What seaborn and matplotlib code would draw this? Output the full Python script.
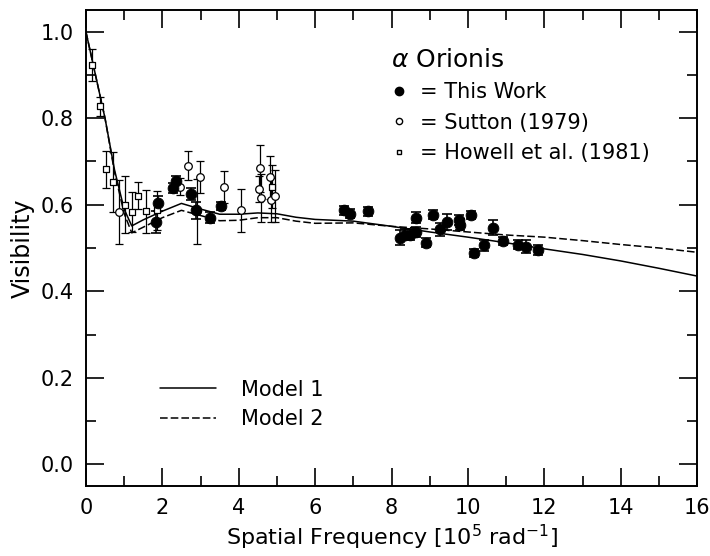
import numpy as np
import pandas as pd
import seaborn as sns
import matplotlib.pyplot as plt
from matplotlib.ticker import MultipleLocator
from matplotlib.lines import Line2D

# ---- data ----
# This Work (filled circles)
work_x = [1.84, 1.89, 2.29, 2.35, 2.74, 2.88, 3.25, 3.53, 6.75, 6.92, 7.39,
          8.23, 8.34, 8.49, 8.64, 8.64, 8.90, 9.08, 9.26, 9.44, 9.76, 9.79,
          10.07, 10.16, 10.42, 10.65, 10.92, 11.31, 11.51, 11.83]
work_y = [0.560, 0.603, 0.638, 0.654, 0.625, 0.587, 0.570, 0.597, 0.587, 0.579, 0.585,
          0.524, 0.531, 0.531, 0.537, 0.570, 0.512, 0.577, 0.543, 0.560, 0.565, 0.554,
          0.576, 0.488, 0.506, 0.547, 0.516, 0.508, 0.503, 0.495]
work_err = [0.025, 0.017, 0.012, 0.012, 0.013, 0.020, 0.012, 0.010, 0.010, 0.010, 0.010,
            0.018, 0.012, 0.012, 0.012, 0.012, 0.010, 0.010, 0.015, 0.018, 0.012, 0.012,
            0.010, 0.010, 0.012, 0.017, 0.010, 0.010, 0.015, 0.012]

# Sutton (1979) (open circles)
sutton_x = [0.87, 2.45, 2.67, 2.90, 2.99, 3.62, 4.05, 4.53, 4.56, 4.59, 4.82, 4.85, 4.95]
sutton_y = [0.583, 0.642, 0.690, 0.585, 0.664, 0.642, 0.587, 0.636, 0.684, 0.616, 0.663, 0.611, 0.621]
sutton_err = [0.074, 0.020, 0.033, 0.075, 0.037, 0.037, 0.050, 0.030, 0.055, 0.055, 0.050, 0.050, 0.060]

# Howell et al. (1981) (small squares)
howell_x = [0.17, 0.36, 0.52, 0.70, 1.03, 1.21, 1.37, 1.56, 1.87, 4.88]
howell_y = [0.923, 0.827, 0.682, 0.652, 0.600, 0.583, 0.621, 0.585, 0.587, 0.642]
howell_err = [0.037, 0.022, 0.043, 0.070, 0.066, 0.046, 0.032, 0.050, 0.045, 0.050]

# models
model1_x = [0, 0.25, 0.5, 0.75, 1.0, 1.2, 1.5, 2.0, 2.5, 3.0, 3.5, 4.0, 4.5, 5.0,
            5.5, 6.0, 7.0, 8.0, 9.0, 10.0, 11.0, 12.0, 13.0, 14.0, 15.0, 16.0]
model1_y = [1.0, 0.90, 0.80, 0.68, 0.59, 0.551, 0.565, 0.585, 0.603, 0.590, 0.578, 0.578,
            0.581, 0.579, 0.571, 0.566, 0.562, 0.550, 0.537, 0.525, 0.512, 0.498,
            0.485, 0.470, 0.453, 0.435]
model2_x = model1_x
model2_y = [1.0, 0.90, 0.80, 0.675, 0.58, 0.535, 0.548, 0.570, 0.587, 0.575, 0.563, 0.564,
            0.570, 0.570, 0.562, 0.557, 0.558, 0.550, 0.544, 0.537, 0.530, 0.525,
            0.517, 0.508, 0.500, 0.490]

models = pd.concat([
    pd.DataFrame({"x": model1_x, "y": model1_y, "model": "Model 1"}),
    pd.DataFrame({"x": model2_x, "y": model2_y, "model": "Model 2"}),
])

sns.set_theme(style="ticks")
plt.rcParams['font.family'] = ['DejaVu Sans']
plt.rcParams['text.color'] = 'black'
plt.rcParams['axes.labelcolor'] = 'black'

fig = plt.figure(figsize=(7.1, 5.56), dpi=100)
ax = fig.add_axes([0.121, 0.126, 0.861, 0.856])

sns.lineplot(data=models, x="x", y="y", style="model", color="black",
             dashes={"Model 1": "", "Model 2": (5, 2)}, linewidth=1.1,
             legend=False, ax=ax)

ax.errorbar(sutton_x, sutton_y, yerr=sutton_err, fmt="none", ecolor="black",
            elinewidth=0.9, capsize=3, capthick=0.9)
ax.errorbar(howell_x, howell_y, yerr=howell_err, fmt="none", ecolor="black",
            elinewidth=0.9, capsize=3, capthick=0.9)
ax.errorbar(work_x, work_y, yerr=work_err, fmt="none", ecolor="black",
            elinewidth=1.2, capsize=3.5, capthick=1.2)

sns.scatterplot(x=sutton_x, y=sutton_y, marker="o", s=30, facecolor="white",
                edgecolor="black", linewidth=0.9, ax=ax, zorder=3)
sns.scatterplot(x=howell_x, y=howell_y, marker="s", s=16, facecolor="white",
                edgecolor="black", linewidth=0.9, ax=ax, zorder=3)
sns.scatterplot(x=work_x, y=work_y, marker="o", s=60, color="black",
                edgecolor="black", ax=ax, zorder=4)

ax.set_xlim(0, 16)
ax.set_ylim(-0.05, 1.05)
ax.xaxis.set_major_locator(MultipleLocator(2))
ax.xaxis.set_minor_locator(MultipleLocator(1))
ax.yaxis.set_major_locator(MultipleLocator(0.2))
ax.yaxis.set_minor_locator(MultipleLocator(0.1))
ax.xaxis.set_major_formatter(plt.FuncFormatter(lambda v, p: f"{v:.0f}"))
ax.yaxis.set_major_formatter(plt.FuncFormatter(lambda v, p: f"{v:.1f}"))
ax.tick_params(which="both", direction="in", top=True, right=True,
               colors="black", labelsize=15, width=1.2)
ax.tick_params(which="major", length=13)
ax.tick_params(which="minor", length=7)
ax.tick_params(axis="y", which="major", pad=9)
ax.tick_params(axis="x", which="major", pad=9)
for s in ax.spines.values():
    s.set_linewidth(1.4)
    s.set_color("black")

ax.set_xlabel("Spatial Frequency [10$^5$ rad$^{-1}$]", fontsize=16, labelpad=3)
ax.set_ylabel("Visibility", fontsize=17, labelpad=4)

# data legend
h_work = Line2D([], [], marker="o", ls="none", color="black", markersize=6)
h_sut = Line2D([], [], marker="o", ls="none", mfc="white", mec="black", markersize=4.5)
h_how = Line2D([], [], marker="s", ls="none", mfc="white", mec="black", markersize=3.5)
leg1 = ax.legend([h_work, h_sut, h_how],
                 ["= This Work", "= Sutton (1979)", "= Howell et al. (1981)"],
                 title="$\\alpha$ Orionis", title_fontsize=18, fontsize=15,
                 loc="upper left", bbox_to_anchor=(0.468, 0.96), frameon=False,
                 alignment="left", handlelength=0.8, handletextpad=0.6,
                 labelspacing=0.5)
ax.add_artist(leg1)

# model legend
h_m1 = Line2D([], [], color="black", lw=1.1)
h_m2 = Line2D([], [], color="black", lw=1.1, dashes=(5, 2))
ax.legend([h_m1, h_m2], ["Model 1", "Model 2"], fontsize=15,
          loc="lower left", bbox_to_anchor=(0.09, 0.08), frameon=False,
          handlelength=2.7, handletextpad=1.2, labelspacing=0.45)

fig.savefig("out.png", dpi=100)
